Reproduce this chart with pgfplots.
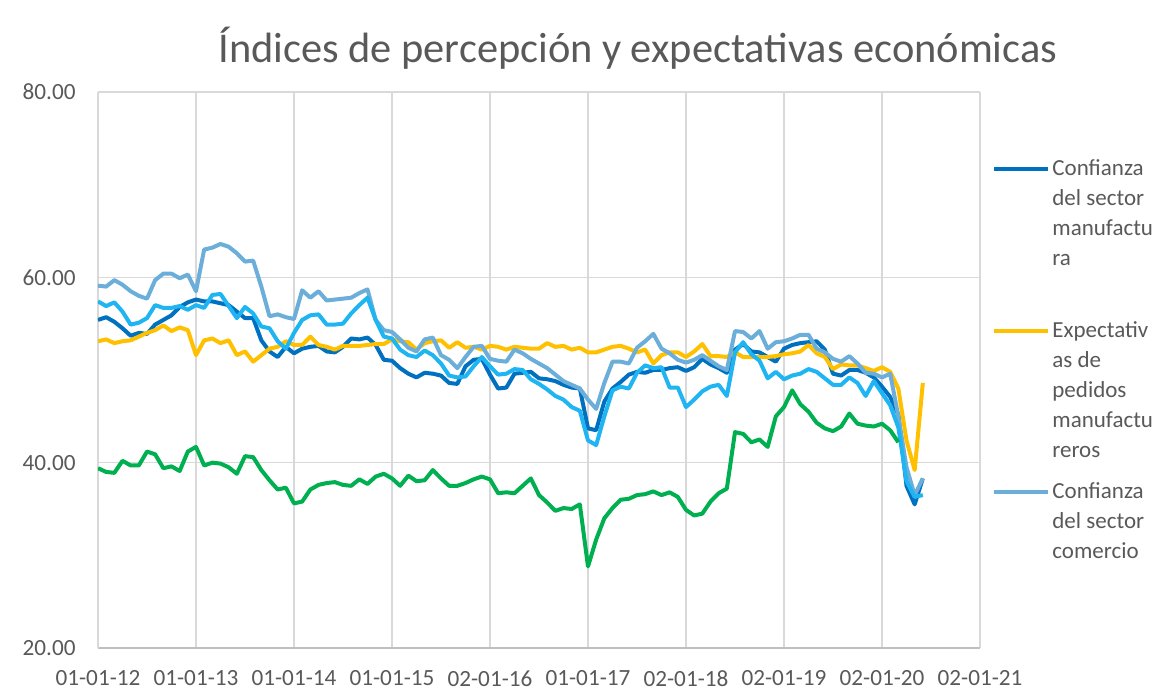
\documentclass[border=0pt]{standalone}
\usepackage{pgfplots}
\pgfplotsset{compat=1.18}
\usepackage{pgfplotstable}
\usepackage{fontspec}
\setmainfont{Carlito}
\definecolor{txt}{HTML}{595959}
\definecolor{gridc}{HTML}{D9D9D9}
\definecolor{axc}{HTML}{BFBFBF}
\definecolor{cman}{HTML}{0070C0}
\definecolor{cexp}{HTML}{FFC000}
\definecolor{ccom}{HTML}{6BAED9}
\definecolor{cbr}{HTML}{1FB4F2}
\definecolor{cgr}{HTML}{00B050}
\pgfplotstableread{
k m e c b g
0 55.4 53.1 59.1 57.4 39.4
1 55.7 53.3 59.0 56.9 39.0
2 55.2 52.9 59.7 57.3 38.9
3 54.5 53.1 59.2 56.3 40.2
4 53.7 53.2 58.5 54.9 39.7
5 54.0 53.6 58.0 55.1 39.7
6 53.9 54.0 57.7 55.6 41.2
7 54.9 54.3 59.7 57.0 40.9
8 55.4 54.8 60.4 56.7 39.4
9 55.9 54.2 60.4 56.7 39.6
10 56.8 54.6 59.9 56.9 39.1
11 57.3 54.3 60.3 56.5 41.2
12 57.6 51.6 58.5 57.0 41.7
13 57.4 53.2 63.0 56.7 39.7
14 57.4 53.4 63.2 58.1 40.0
15 57.2 52.9 63.6 58.2 39.9
16 57.0 53.2 63.3 56.9 39.5
17 56.3 51.6 62.6 55.6 38.8
18 55.6 52.0 61.7 56.8 40.7
19 55.6 50.9 61.8 56.1 40.6
20 53.2 51.6 59.0 54.7 39.2
21 52.0 52.3 55.8 54.5 38.1
22 51.4 52.5 56.0 53.1 37.1
23 52.5 53.1 55.7 52.3 37.3
24 51.8 52.7 55.5 54.0 35.6
25 52.3 52.7 58.6 55.4 35.8
26 52.5 53.6 57.8 55.9 37.1
27 52.6 52.7 58.5 56.0 37.6
28 52.0 52.5 57.5 54.9 37.8
29 51.9 52.2 57.6 54.9 37.9
30 52.5 52.6 57.7 55.0 37.6
31 53.4 52.6 57.8 56.1 37.5
32 53.3 52.6 58.3 57.0 38.2
33 53.5 52.7 58.7 57.8 37.7
34 52.7 52.8 55.4 55.4 38.5
35 51.1 52.8 54.3 53.6 38.8
36 51.0 53.3 54.1 53.4 38.3
37 50.2 53.1 53.3 52.2 37.5
38 49.6 53.0 52.4 51.6 38.6
39 49.2 52.2 52.0 51.4 38.0
40 49.7 52.9 53.3 52.1 38.1
41 49.6 53.1 53.5 51.6 39.2
42 49.4 53.2 51.6 50.7 38.3
43 48.6 52.4 51.1 49.4 37.5
44 48.5 53.0 50.2 49.2 37.5
45 50.4 52.4 51.4 49.3 37.8
46 51.1 52.5 52.5 50.4 38.2
47 51.2 52.2 52.6 51.4 38.5
48 49.5 52.6 51.2 50.4 38.2
49 48.0 52.5 51.0 49.5 36.7
50 48.1 52.2 50.9 49.6 36.8
51 49.6 52.5 52.2 50.1 36.7
52 49.7 52.4 51.8 50.0 37.5
53 49.8 52.3 51.2 49.0 38.3
54 49.1 52.3 50.7 48.5 36.5
55 49.0 52.9 50.2 47.9 35.7
56 48.8 52.5 49.5 47.2 34.8
57 48.4 52.6 48.8 46.8 35.1
58 48.1 52.2 48.4 46.0 35.0
59 48.0 52.4 48.0 45.6 35.5
60 43.7 51.9 46.8 42.4 28.8
61 43.5 51.9 45.8 41.9 31.7
62 46.6 52.2 48.6 45.0 34.0
63 48.0 52.5 50.9 47.8 35.1
64 48.7 52.6 50.9 48.2 36.0
65 49.5 52.3 50.7 48.0 36.1
66 49.8 51.9 52.4 49.7 36.5
67 49.7 52.2 53.1 50.5 36.6
68 50.0 50.7 53.9 50.2 36.9
69 50.0 51.6 52.3 50.3 36.5
70 50.2 51.9 51.8 48.1 36.8
71 50.3 51.9 51.1 48.1 36.3
72 49.9 51.4 50.8 46.0 34.9
73 50.3 52.0 51.1 46.8 34.3
74 51.2 52.8 51.6 47.7 34.5
75 50.6 51.5 51.0 48.2 35.8
76 50.2 51.5 50.4 48.4 36.7
77 49.7 51.4 50.0 47.2 37.2
78 52.2 51.9 54.2 51.9 43.3
79 52.8 51.4 54.1 53.0 43.1
80 52.0 51.4 53.4 51.7 42.2
81 51.9 51.4 54.2 51.0 42.5
82 51.4 51.4 52.3 49.1 41.7
83 50.9 51.5 53.0 49.8 45.0
84 52.3 51.7 53.1 49.0 46.0
85 52.7 51.8 53.4 49.4 47.8
86 52.9 52.0 53.8 49.6 46.3
87 53.0 52.7 53.8 50.1 45.5
88 53.1 51.8 52.3 49.8 44.3
89 52.2 51.4 51.9 49.1 43.7
90 49.6 50.1 51.2 48.4 43.4
91 49.4 50.6 50.9 48.4 43.9
92 50.0 50.5 51.5 49.2 45.3
93 50.0 50.5 50.7 48.6 44.2
94 49.7 50.2 49.7 47.2 44.0
95 49.2 49.9 49.6 48.8 43.9
96 48.2 50.3 49.2 47.5 44.2
97 47.1 49.8 49.6 46.2 43.5
98 45.2 48.0 45.0 43.8 42.2
99 37.5 42.4 39.5 38.0 nan
100 35.5 39.2 36.5 36.3 nan
101 38.3 48.6 38.3 36.5 nan
}\data
\begin{document}
\begin{tikzpicture}
\useasboundingbox (-49pt,-21pt) rectangle (538pt,324pt);
\begin{axis}[
  at={(0,0)}, anchor=south west,
  scale only axis, width=441pt, height=278pt,
  xmin=0, xmax=108, ymin=20, ymax=80,
  axis x line*=bottom, axis y line*=left,
  x axis line style={draw=axc, line width=0.75pt, -},
  y axis line style={draw=gridc, line width=0.75pt, -},
  xtick={0,12,...,108},
  xticklabels={01-01-12,01-01-13,01-01-14,01-01-15,02-01-16,01-01-17,02-01-18,02-01-19,02-01-20,02-01-21},
  ytick={20,40,60,80},
  yticklabel style={/pgf/number format/fixed, /pgf/number format/fixed zerofill, /pgf/number format/precision=2},
  /pgf/number format/assume math mode=true,
  major tick length=0pt,
  grid=major, major grid style={draw=gridc, line width=0.75pt},
  tick label style={font=\fontsize{11.6}{13}\selectfont, text=txt},
  xticklabel style={anchor=north, inner sep=0pt, yshift=-11.2pt},
  yticklabel style={anchor=east, inner sep=0pt, xshift=-11pt},
  title={Índices de percepción y expectativas económicas},
  title style={at={(0.612,1)}, anchor=base, yshift=8.5pt, inner sep=0pt, font=\fontsize{21.2}{25}\selectfont, text=txt},
  legend style={at={(1,1)}, anchor=north west, xshift=6pt, yshift=-28.5pt, draw=none, fill=none, inner sep=0pt, row sep=2pt, column sep=0pt, font=\fontsize{11.5}{14.8}\selectfont, text=txt, cells={anchor=base west}, nodes={inner ysep=0pt, inner xsep=1pt, text=txt, text height=13pt, text depth=0pt}},
  legend image code/.code={\draw[#1, line width=2pt] (0pt,3pt) -- (27pt,3pt);},
  every axis plot/.append style={line width=2pt, line join=round},
]
\addplot[cman, forget plot] table[x=k, y=m]{\data};
\addplot[cexp, forget plot] table[x=k, y=e]{\data};
\addplot[ccom, forget plot] table[x=k, y=c]{\data};
\addplot[cbr, forget plot] table[x=k, y=b]{\data};
\addplot[cgr, forget plot] table[x=k, y=g]{\data};
% legend rows
\addlegendimage{cman}
\addlegendentry{Confianza}
\addlegendimage{empty legend}
\addlegendentry{del sector}
\addlegendimage{empty legend}
\addlegendentry{manufactu}
\addlegendimage{empty legend}
\addlegendentry{ra}
\addlegendimage{empty legend}
\addlegendentry[text height=19pt]{}
\addlegendimage{cexp}
\addlegendentry{Expectativ}
\addlegendimage{empty legend}
\addlegendentry{as de}
\addlegendimage{empty legend}
\addlegendentry{pedidos}
\addlegendimage{empty legend}
\addlegendentry{manufactu}
\addlegendimage{empty legend}
\addlegendentry{reros}
\addlegendimage{empty legend}
\addlegendentry[text height=3.5pt]{}
\addlegendimage{ccom}
\addlegendentry{Confianza}
\addlegendimage{empty legend}
\addlegendentry{del sector}
\addlegendimage{empty legend}
\addlegendentry{comercio}
\end{axis}
\end{tikzpicture}
\end{document}
